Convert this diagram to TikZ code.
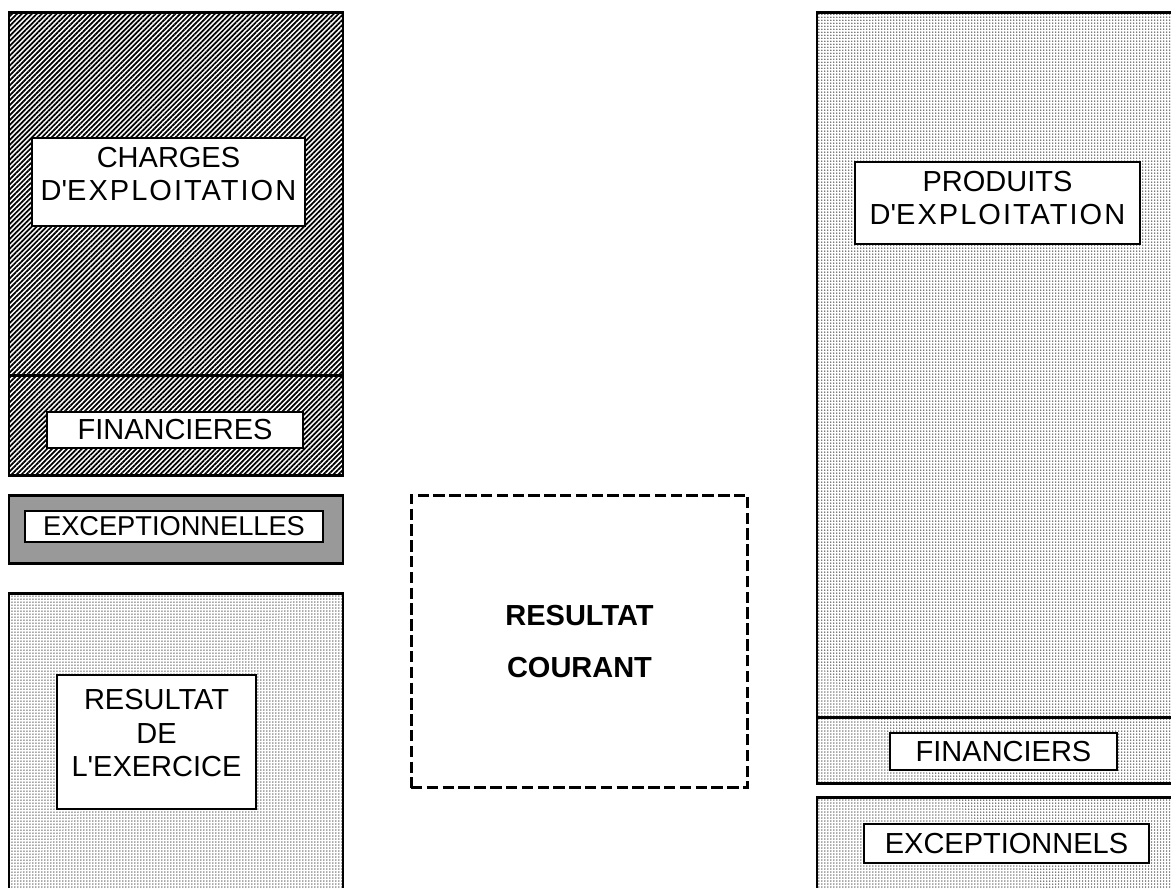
\documentclass[tikz,border=0pt]{standalone}
\usepackage{fontspec}
\setmainfont{Liberation Sans}
\usetikzlibrary{patterns.meta}
\newcommand{\apos}{\textquotesingle}
\newcommand{\lowdepth}[1]{\rule[-#1]{0pt}{#1}}
\newcommand{\wide}[1]{{\addfontfeature{LetterSpace=7}#1}}
\tikzset{
  frame/.style={draw=black, line width=1.7pt},
  hatched/.style={frame, pattern={Lines[angle=45, distance=0.07cm, line width=0.035cm]}, pattern color=black},
  dotted fill/.style={frame, pattern={Dots[radius=0.015cm, distance=0.06cm]}, pattern color=black!70},
  dense fill/.style={frame, fill=black!40},
  labelbox/.style={draw=black, line width=1.1pt, fill=white, align=center, inner sep=0pt,
    font=\fontsize{16.5}{19}\selectfont},
  resultbox/.style={draw=black, line width=1.7pt, dash pattern=on 6.5pt off 2.5pt, align=center,
    inner sep=0pt, font=\fontsize{16.5}{19}\selectfont\bfseries}
}
\begin{document}
\begin{tikzpicture}[x=0.02cm, y=-0.02cm]
  \useasboundingbox (0,0) rectangle (1171,887);
  \clip (0,0) rectangle (1171,887);

  % charges side
  \fill[white] (9,12) rectangle (343,475);
  \path[hatched] (9,12) rectangle (343,475);
  \draw[frame] (9,375) -- (343,375);
  \path[dense fill] (9,495) rectangle (343,563);
  \path[dotted fill] (9,593) rectangle (343,900);

  % produits side
  \path[dotted fill] (817,12) rectangle (1185,783);
  \draw[frame] (817,717) -- (1185,717);
  \path[dotted fill] (817,797) rectangle (1185,900);

  % labels
  \node[labelbox, minimum width=5.46cm, minimum height=1.76cm] (charges) at (168.5,182)
    {CHARGES\\\wide{D\apos EXPLOITATION}\lowdepth{9.5pt}};
  \node[labelbox, minimum width=5.12cm, minimum height=0.72cm] (chfin) at (175,430)
    {FINANCIERES};
  \node[labelbox, minimum width=5.96cm, minimum height=0.62cm, font=\fontsize{15.5}{18}\selectfont]
    (chexc) at (174,526.5) {EXCEPTIONNELLES};
  \node[labelbox, minimum width=3.98cm, minimum height=2.68cm] (exercice) at (156.5,742)
    {RESULTAT\\DE\\L\apos EXERCICE\lowdepth{10.3pt}};
  \node[labelbox, minimum width=5.7cm, minimum height=1.64cm] (produits) at (997.5,203)
    {PRODUITS\\\wide{D\apos EXPLOITATION}\lowdepth{6pt}};
  \node[labelbox, minimum width=4.54cm, minimum height=0.74cm] (prfin) at (1003.5,751.5)
    {FINANCIERS};
  \node[labelbox, minimum width=5.7cm, minimum height=0.78cm] (prexc) at (1006.5,843.5)
    {EXCEPTIONNELS};

  % current result
  \node[resultbox, minimum width=6.74cm, minimum height=5.86cm] (courant) at (579.5,641.5)
    {RESULTAT\\[10.5pt]COURANT};
\end{tikzpicture}
\end{document}
